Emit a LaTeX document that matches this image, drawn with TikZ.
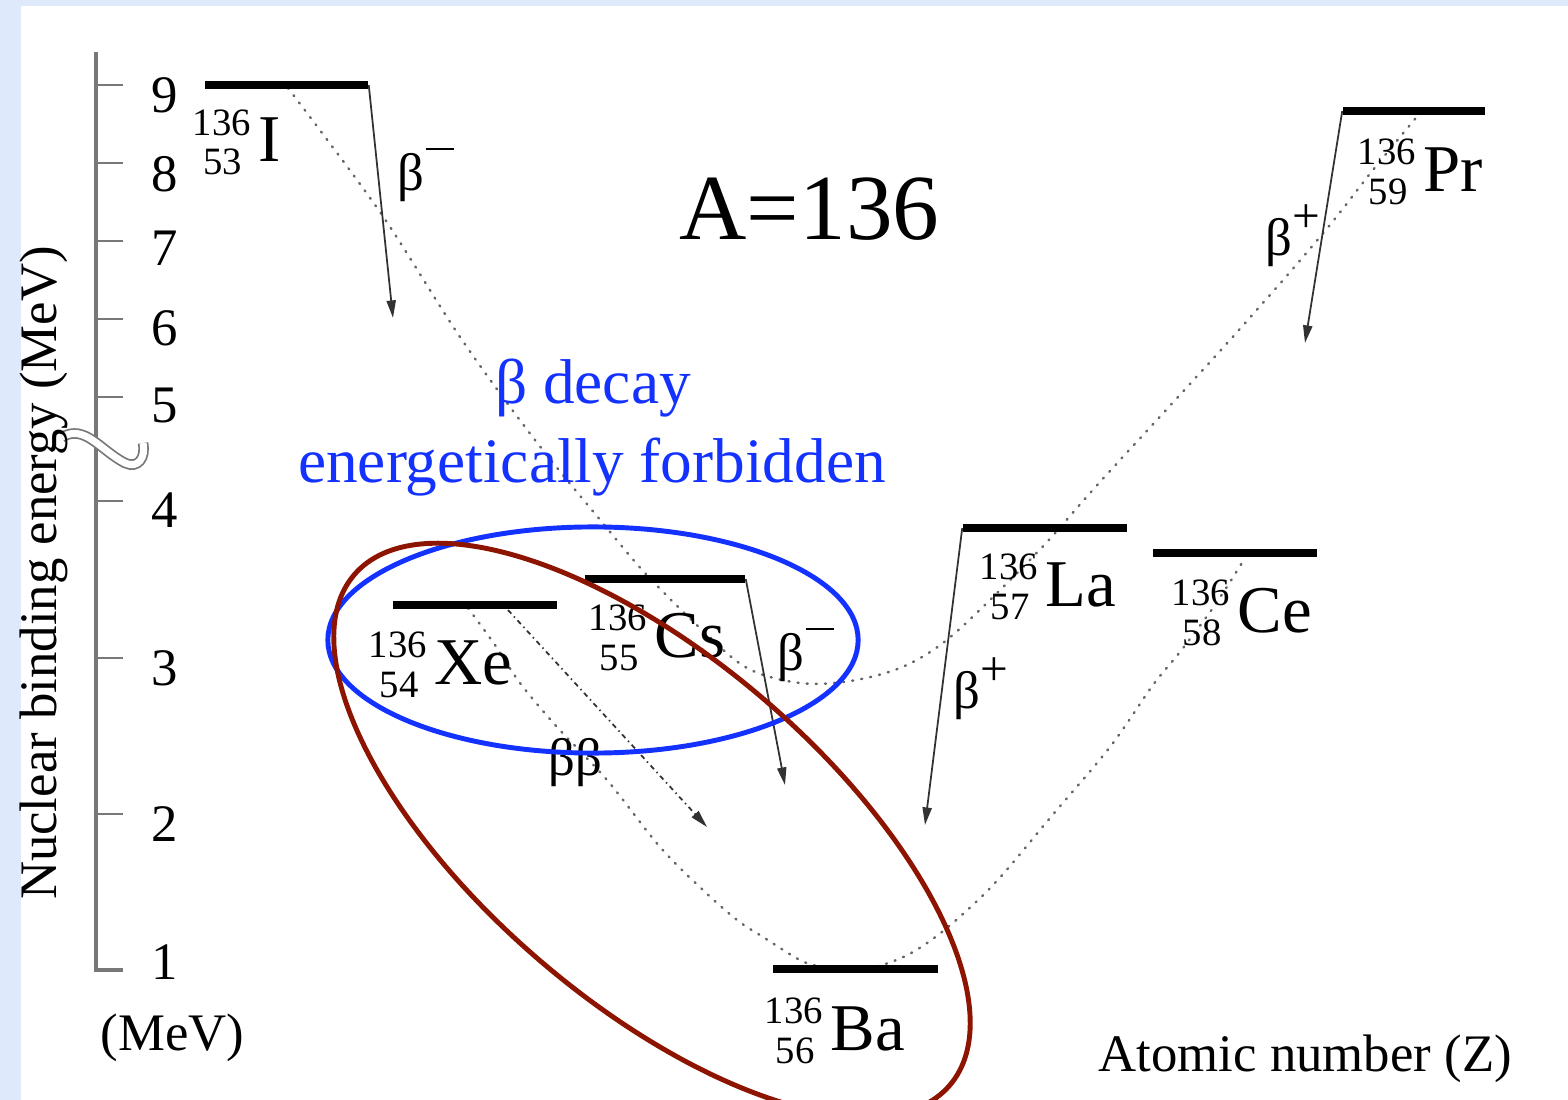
\documentclass[tikz,border=0pt]{standalone}
\usepackage{fontspec}
\setmainfont{Liberation Serif}
\usetikzlibrary{arrows.meta}
\definecolor{bgblue}{RGB}{222,234,252}
\definecolor{myblue}{RGB}{20,50,255}
\definecolor{myred}{RGB}{140,20,0}
\definecolor{axisgray}{RGB}{120,120,120}
\definecolor{dotgray}{RGB}{100,100,100}
\definecolor{arrgray}{RGB}{50,50,50}
\tikzset{
  axisline/.style={draw=axisgray, line width=1.3pt},
  tickline/.style={draw=axisgray, line width=0.85pt},
  level/.style={fill=black, draw=none, minimum height=0.07cm, inner sep=0pt},
  elem/.style={font=\fontsize{19}{19}\selectfont, inner sep=0pt, anchor=base west},
  massnum/.style={font=\fontsize{11}{11}\selectfont, inner sep=0pt, anchor=base},
  decayarrow/.style={draw=arrgray, line width=0.5pt, -{Triangle[length=5pt,width=2.6pt]}},
  bbarrow/.style={draw=arrgray, line width=0.5pt, dash pattern=on 1.4pt off 1.1pt on 0.4pt off 1.1pt, -{Triangle[length=5pt,width=2.6pt]}},
  parab/.style={draw=dotgray, line width=0.7pt, dash pattern=on 0.3pt off 2.3pt, line cap=round},
  ticklabel/.style={font=\fontsize{15}{18}\selectfont, inner sep=0pt},
  decaylabel/.style={font=\fontsize{15}{18}\selectfont, inner sep=0pt, anchor=base west},
  bluetext/.style={font=\fontsize{18}{21}\selectfont, text=myblue, inner sep=0pt, anchor=base},
  ring/.style={line width=1.4pt},
}
\newcommand\nuclide[6]{%
  \node[elem] (#1) at (#2,#3) {#6};
  \node[massnum] (#1A) at (#2-36,#3-27) {#4};
  \node[massnum] (#1Z) at (#2-35,#3+13) {#5};
}
\newcommand\bminus{β\kern0.3pt\rule[11.3pt]{8.2pt}{0.65pt}}
\newcommand\bplus{β\raisebox{6.5pt}{\fontsize{14}{14}\selectfont +}}
\begin{document}
\begin{tikzpicture}[x=0.01cm,y=-0.01cm]
\useasboundingbox (0,0) rectangle (1568,1100);
\fill[bgblue] (0,0) rectangle (1568,1100);
\fill[white] (21,6) rectangle (1568,1100);

% axis
\draw[axisline] (96,52) -- (96,970) -- (123,970);
\foreach \yy in {85,163,241,319,397,501,658,814} \draw[tickline] (96,\yy) -- (123,\yy);
\foreach \v/\yy in {9/95,8/174,7/248,6/328,5/405,4/510,3/668,2/824,1/962}
  \node[ticklabel] (t\v) at (165,\yy) {\v};
\draw[draw=axisgray, line width=0.5pt, double=white, double distance=2pt]
  (62,437) .. controls (85,424) and (100,450) .. (125,463) .. controls (138,469) and (146,458) .. (143,443);
\node[ticklabel, rotate=90] (ylab) at (44,573) {Nuclear binding energy (MeV)};
\node[ticklabel, anchor=base west] (mev) at (100,1050) {(MeV)};

% parabolas
\draw[parab] plot[smooth, tension=0.55] coordinates {(288,88) (380,212) (460,337) (535,440) (606,527) (645,573) (700,628) (747,668) (800,683) (850,681) (900,668) (943,643) (990,600) (1047,542) (1100,482) (1230,340) (1320,237) (1373,170) (1420,113)};
\draw[parab] plot[smooth, tension=0.55] coordinates {(468,608) (495,645) (520,683) (557,727) (607,780) (660,847) (703,890) (737,920) (763,937) (800,960) (822,967) (850,970) (882,965) (913,952) (948,927) (995,883) (1050,818) (1110,747) (1153,685) (1180,652) (1215,605) (1245,558)};

% levels
\node[level, minimum width=1.63cm] (I) at (286.5,85) {};
\node[level, minimum width=1.64cm] (Xe) at (475,605) {};
\node[level, minimum width=1.60cm] (Cs) at (665,579) {};
\node[level, minimum width=1.65cm] (Ba) at (855.5,969) {};
\node[level, minimum width=1.64cm] (La) at (1045,528) {};
\node[level, minimum width=1.64cm] (Ce) at (1235,553) {};
\node[level, minimum width=1.42cm] (Pr) at (1414,111) {};

% labels
\nuclide{lI}{258}{162}{136}{53}{I}
\nuclide{lXe}{434}{684}{136}{54}{Xe}
\nuclide{lCs}{654}{657}{136}{55}{Cs}
\nuclide{lBa}{830}{1050}{136}{56}{Ba}
\nuclide{lLa}{1045}{606}{136}{57}{La}
\nuclide{lCe}{1237}{632}{136}{58}{Ce}
\nuclide{lPr}{1423}{192}{136}{59}{Pr}

% arrows
\coordinate (Itip) at (393,318);
\coordinate (Cstip) at (785,785);
\coordinate (Latip) at (925,825);
\coordinate (Prtip) at (1305,343);
\coordinate (bbs) at (508,610);
\coordinate (bbe) at (707,827);
\draw[decayarrow] (I.east) -- (Itip);
\draw[decayarrow] (Cs.east) -- (Cstip);
\draw[decayarrow] (La.west) -- (Latip);
\draw[decayarrow] (Pr.west) -- (Prtip);
\draw[bbarrow] (bbs) -- (bbe);

\node[decaylabel] (bI) at (397,190) {\bminus};
\node[decaylabel] (bCs) at (777,670) {\bminus};
\node[decaylabel] (bLa) at (953,708) {\bplus};
\node[decaylabel] (bPr) at (1265,255) {\bplus};
\node[decaylabel] (bb) at (548,775) {ββ};

% texts
\node[font=\fontsize{26.5}{30}\selectfont, inner sep=0pt, anchor=base west] (title) at (679,239) {A=136};
\node[bluetext] (bd1) at (593,403) {β decay};
\node[bluetext] (bd2) at (592,482) {energetically forbidden};
\node[ticklabel, anchor=base west] (zlab) at (1098,1071) {Atomic number (Z)};

% rings
\begin{scope}
\clip (0,0) rectangle (1568,1100);
\draw[ring, myblue] (593,640) ellipse [x radius=2.65cm, y radius=1.13cm];
\draw[ring, myred, shift={(652,830)}, rotate=-40.6] (0,0) ellipse [x radius=3.92cm, y radius=1.72cm];
\end{scope}
\end{tikzpicture}
\end{document}
